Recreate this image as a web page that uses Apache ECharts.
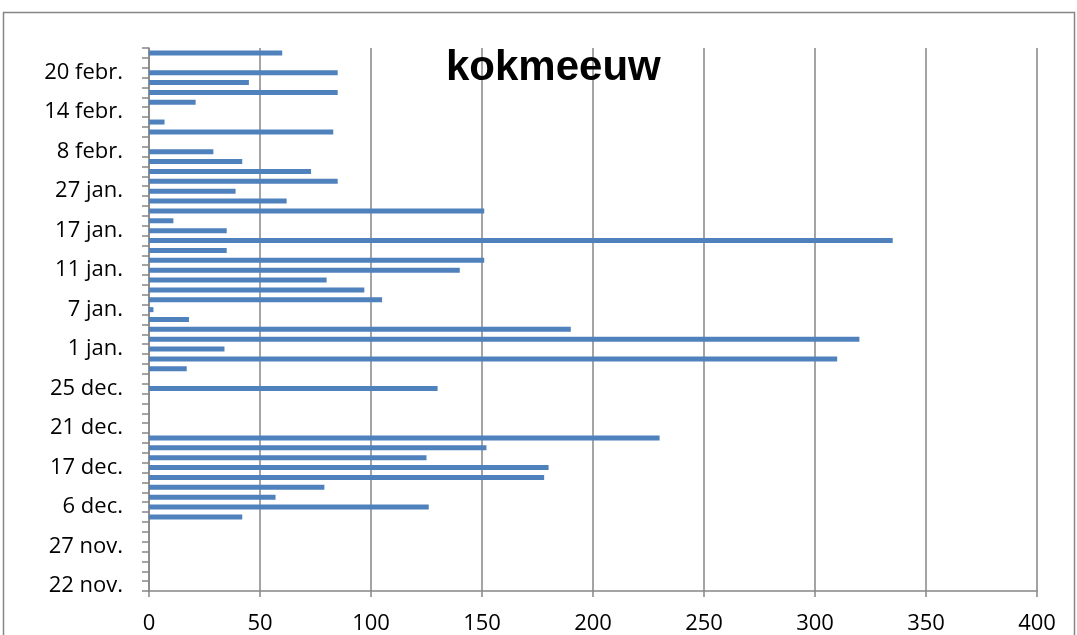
<!DOCTYPE html>
<html>
<head>
<meta charset="utf-8">
<script src="https://cdn.jsdelivr.net/npm/echarts@6/dist/echarts.min.js"></script>
<style>
    html, body { margin: 0; padding: 0; background: #fff; }
    #main { width: 1077px; height: 635px; }
</style>
</head>
<body>
<div id="main"></div>
<script>
// datums (van onder naar boven)
var dagen = [
    "22 nov.", "23 nov.", "24 nov.", "26 nov.", "27 nov.", "29 nov.", "1 dec.", "4 dec.",
    "6 dec.", "8 dec.", "10 dec.", "13 dec.", "17 dec.", "18 dec.", "19 dec.", "20 dec.",
    "21 dec.", "22 dec.", "23 dec.", "24 dec.", "25 dec.", "26 dec.", "28 dec.", "30 dec.",
    "1 jan.", "2 jan.", "4 jan.", "5 jan.", "7 jan.", "8 jan.", "9 jan.", "10 jan.",
    "11 jan.", "13 jan.", "14 jan.", "16 jan.", "17 jan.", "19 jan.", "21 jan.", "24 jan.",
    "27 jan.", "30 jan.", "2 febr.", "5 febr.", "8 febr.", "10 febr.", "11 febr.", "12 febr.",
    "14 febr.", "16 febr.", "17 febr.", "18 febr.", "20 febr.", "22 febr.", "24 febr."
];
// aantal kokmeeuwen per dag
var aantallen = [
    null, null, null, null, null, null, null, 42,
    126, 57, 79, 178, 180, 125, 152, 230,
    null, null, null, null, 130, null, 17, 310,
    34, 320, 190, 18, 2, 105, 97, 80,
    140, 151, 35, 335, 35, 11, 151, 62,
    39, 85, 73, 42, 29, null, 83, 7,
    null, 21, 85, 45, 85, null, 60
];
var xMin = 0, xMax = 400, xStap = 50;

var grijs = '#868686';
var myChart = echarts.init(document.getElementById('main'));
myChart.setOption({
    animation: false,
    backgroundColor: '#fff',
    title: {
        text: 'kokmeeuw',
        left: 441,
        top: 42,
        textStyle: {
            fontFamily: 'Liberation Sans',
            fontWeight: 'bold',
            fontSize: 42,
            color: '#000'
        }
    },
    graphic: [{
        type: 'rect',
        shape: {x: 3.5, y: 12.5, width: 1071, height: 660},
        style: {fill: null, stroke: grijs, lineWidth: 1.5},
        silent: true
    }],
    grid: {
        left: 149,
        right: 40,
        top: 48,
        bottom: 44
    },
    xAxis: {
        type: 'value',
        min: xMin,
        max: xMax,
        interval: xStap,
        axisLine: {show: true, lineStyle: {color: grijs, width: 1.5}},
        axisTick: {show: true, length: 6, lineStyle: {color: grijs, width: 1.5}},
        axisLabel: {
            margin: 22,
            fontFamily: 'Open Sans',
            fontSize: 22,
            color: '#000'
        },
        splitLine: {show: true, lineStyle: {color: grijs, width: 1.5}}
    },
    yAxis: {
        type: 'category',
        data: dagen,
        boundaryGap: true,
        axisLine: {show: true, lineStyle: {color: grijs, width: 1.5}},
        axisTick: {show: true, interval: 0, length: 7, lineStyle: {color: grijs, width: 1.5}},
        axisLabel: {
            interval: 3,
            margin: 26,
            fontFamily: 'Open Sans',
            fontSize: 22,
            color: '#000'
        },
        splitLine: {show: false}
    },
    series: [{
        type: 'bar',
        name: 'kokmeeuw',
        data: aantallen,
        barWidth: 5,
        itemStyle: {color: '#4F81BD'}
    }]
});
</script>
</body>
</html>
